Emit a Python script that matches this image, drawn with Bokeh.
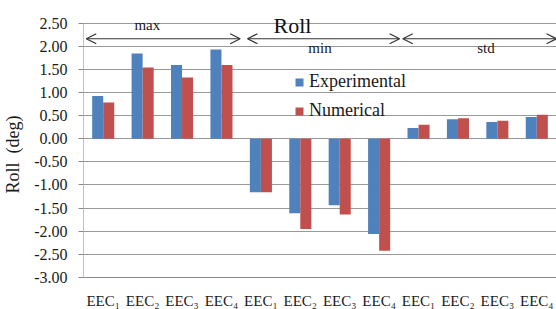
from bokeh.plotting import figure
from bokeh.models import (ColumnDataSource, FixedTicker, Arrow, OpenHead, Label,
                          Legend, LegendItem, NumeralTickFormatter, Range1d)
from bokeh.embed import file_html
from bokeh.resources import INLINE

tick_labels = ["EEC₁", "EEC₂", "EEC₃", "EEC₄"] * 3
experimental = [0.92, 1.84, 1.59, 1.93, -1.16, -1.61, -1.44, -2.06, 0.23, 0.42, 0.36, 0.47]
numerical = [0.78, 1.54, 1.32, 1.59, -1.16, -1.95, -1.64, -2.42, 0.30, 0.44, 0.39, 0.52]
groups = ["max", "min", "std"]
y_ticks = [-3.0, -2.5, -2.0, -1.5, -1.0, -0.5, 0.0, 0.5, 1.0, 1.5, 2.0, 2.5]

FONT = "Liberation Serif"
BLUE = "#4F81BD"
RED = "#C0504D"
TXT = "#1a1a1a"

n = len(tick_labels)
centers = [i + 0.5 for i in range(n)]
bw = 0.28
src = ColumnDataSource(dict(
    xb=[c - bw / 2 for c in centers],
    xr=[c + bw / 2 for c in centers],
    exp=experimental, num=numerical))

ymin, ymax = y_ticks[0], y_ticks[-1]
p = figure(width=556, height=309, output_backend="svg", toolbar_location=None,
           x_range=Range1d(0, n), y_range=Range1d(ymin, ymax + 0.4),
           min_border_left=80, min_border_right=3, min_border_top=4, min_border_bottom=32)
p.frame_width = 473
p.frame_height = 273
p.outline_line_color = None
p.background_fill_color = "white"

rb = p.vbar(x="xb", top="exp", bottom=0, width=bw, source=src, fill_color=BLUE, line_color=None)
rr = p.vbar(x="xr", top="num", bottom=0, width=bw, source=src, fill_color=RED, line_color=None)

# x axis
p.xaxis.ticker = FixedTicker(ticks=centers)
p.xaxis.major_label_overrides = {c: lab for c, lab in zip(centers, tick_labels)}
p.xaxis.major_label_text_font = FONT
p.xaxis.major_label_text_font_size = "15px"
p.xaxis.major_label_text_color = TXT
p.xaxis.major_tick_line_color = None
p.xaxis.minor_tick_line_color = None
p.xaxis.axis_line_color = "#888888"
p.xaxis.major_label_standoff = 9

# y axis (axis line drawn only up to the top tick)
p.yaxis.ticker = FixedTicker(ticks=y_ticks)
p.yaxis.formatter = NumeralTickFormatter(format="0.00")
p.yaxis.major_label_text_font = FONT
p.yaxis.major_label_text_font_size = "16px"
p.yaxis.major_label_text_color = TXT
p.yaxis.major_tick_out = 5
p.yaxis.major_tick_in = 0
p.yaxis.major_tick_line_color = "#888888"
p.yaxis.minor_tick_line_color = None
p.yaxis.axis_line_color = None
# trailing no-break spaces centre the visible label on the 2.50 .. -3.00 span
p.yaxis.axis_label = "Roll\u00a0\u00a0(deg)" + "\u00a0" * 6
p.yaxis.axis_label_text_font = FONT
p.yaxis.axis_label_text_font_size = "18px"
p.yaxis.axis_label_text_font_style = "normal"
p.yaxis.axis_label_text_color = TXT
p.yaxis.major_label_standoff = 11
p.yaxis.axis_label_standoff = 8
p.segment(x0=[0], y0=[ymin], x1=[0], y1=[ymax], line_color="#888888", line_width=1)

p.xgrid.grid_line_color = None
p.ygrid.grid_line_color = "#999999"
p.ygrid.grid_line_width = 1

# group arrows and labels
arrow_y = 2.16
arrow_x = [(0.07, 3.975), (4.16, 8.02), (8.10, 12.0)]
label_pos = [(1.62, 2.45), (6.0, 1.95), (10.21, 1.95)]
for g, (x0, x1), (lx, ly) in zip(groups, arrow_x, label_pos):
    p.add_layout(Arrow(start=OpenHead(size=10, line_color="#333333", line_width=1.2),
                       end=OpenHead(size=10, line_color="#333333", line_width=1.2),
                       x_start=x0, y_start=arrow_y, x_end=x1, y_end=arrow_y,
                       line_color="#333333", line_width=1.2))
    p.add_layout(Label(x=lx, y=ly, text=g, text_font=FONT, text_font_size="15px",
                       text_align="center", text_baseline="middle", text_color=TXT))

p.add_layout(Label(x=5.30, y=2.455, text="Roll", text_font=FONT, text_font_size="22px",
                   text_align="center", text_baseline="alphabetic", text_color="#111111"))

legend = Legend(items=[LegendItem(label="Experimental", renderers=[rb]),
                       LegendItem(label="Numerical", renderers=[rr])],
                location=(211, 156), background_fill_alpha=0, border_line_color=None,
                label_text_font=FONT, label_text_font_size="18px", label_text_color=TXT,
                glyph_width=10, glyph_height=10, spacing=8, padding=2, label_standoff=5)
p.add_layout(legend)

open("out.html", "w").write(file_html(p, INLINE))
